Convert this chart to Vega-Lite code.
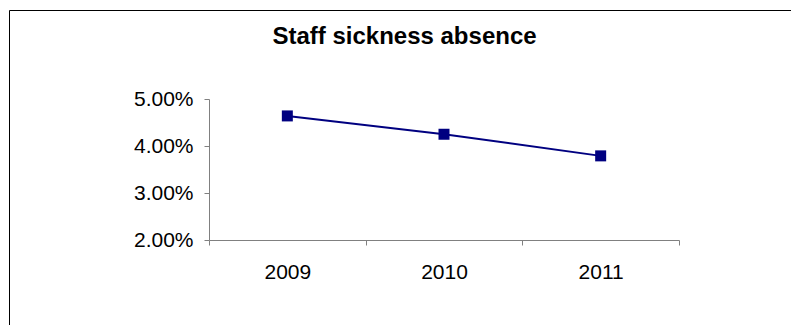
{
  "$schema": "https://vega.github.io/schema/vega-lite/v6.json",
  "width": 783,
  "height": 316,
  "autosize": {"type": "none"},
  "padding": {"left": 9, "top": 10, "right": -1, "bottom": -1},
  "background": "white",
  "config": {
    "view": {"stroke": "#000000", "strokeWidth": 1},
    "font": "Liberation Sans"
  },
  "title": {
    "text": "Staff sickness absence",
    "font": "Liberation Sans",
    "fontSize": 24,
    "fontWeight": "bold",
    "color": "#000000",
    "anchor": "middle",
    "frame": "group",
    "offset": -39,
    "dx": 4
  },
  "data": {
    "values": [
      {"year": "2009", "rate": 0.0464},
      {"year": "2010", "rate": 0.0425},
      {"year": "2011", "rate": 0.0379}
    ]
  },
  "encoding": {
    "x": {
      "field": "year",
      "type": "ordinal",
      "scale": {"type": "band", "range": [200, 670], "paddingInner": 0, "paddingOuter": 0},
      "axis": {
        "orient": "bottom",
        "offset": -86,
        "title": null,
        "tickBand": "extent",
        "tickSize": 5,
        "domainColor": "#808080",
        "tickColor": "#808080",
        "labelFont": "Liberation Sans",
        "labelFontSize": 21,
        "labelColor": "#000000",
        "labelPadding": 16,
        "labelAngle": 0,
        "grid": false
      }
    },
    "y": {
      "field": "rate",
      "type": "quantitative",
      "scale": {"domain": [0.02, 0.05], "range": [230, 89], "zero": false, "nice": false},
      "axis": {
        "orient": "left",
        "offset": -200,
        "title": null,
        "values": [0.02, 0.03, 0.04, 0.05],
        "format": ".2%",
        "tickSize": 5,
        "domainColor": "#808080",
        "tickColor": "#808080",
        "labelFont": "Liberation Sans",
        "labelFontSize": 21,
        "labelColor": "#000000",
        "labelPadding": 11,
        "grid": false
      }
    }
  },
  "layer": [
    {"mark": {"type": "line", "color": "#000080", "strokeWidth": 2}},
    {"mark": {"type": "point", "shape": "square", "filled": true, "size": 121, "color": "#000080", "opacity": 1}}
  ]
}
